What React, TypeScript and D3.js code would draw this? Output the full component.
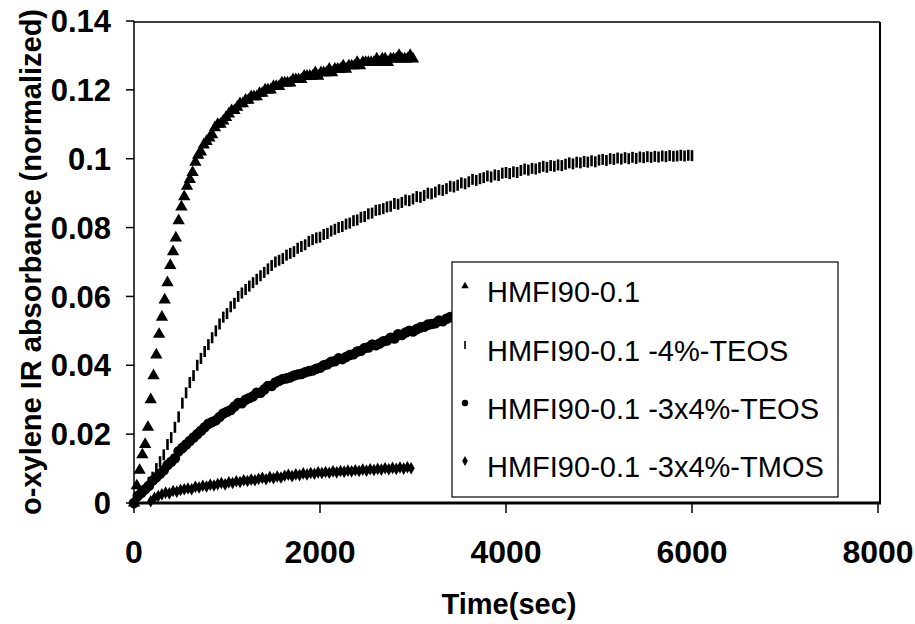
import React from "react";
import * as d3 from "d3";

// ---------- DATA ----------
const seriesNames = [
  "HMFI90-0.1",
  "HMFI90-0.1 -4%-TEOS",
  "HMFI90-0.1 -3x4%-TEOS",
  "HMFI90-0.1 -3x4%-TMOS",
];

const xTicks = [0, 2000, 4000, 6000, 8000];
const yTicks = [0, 0.02, 0.04, 0.06, 0.08, 0.1, 0.12, 0.14];
const yTickLabels = ["0", "0.02", "0.04", "0.06", "0.08", "0.1", "0.12", "0.14"];

// HMFI90-0.1 : sampled every 30 s from 0 s
const triStart = 0;
const triStep = 30;
const triValues = [
  0.0, 0.005, 0.0095, 0.014, 0.017, 0.022, 0.03, 0.037, 0.043, 0.049,
  0.054, 0.059, 0.064, 0.069, 0.073, 0.077, 0.082, 0.086, 0.089, 0.092,
  0.094, 0.096, 0.099, 0.101, 0.102, 0.104, 0.105, 0.106, 0.107, 0.109,
  0.11, 0.11, 0.111, 0.112, 0.113, 0.114, 0.114, 0.115, 0.116, 0.116,
  0.117, 0.117, 0.118, 0.118, 0.118, 0.119, 0.119, 0.12, 0.12, 0.12,
  0.121, 0.121, 0.121, 0.122, 0.122, 0.122, 0.122, 0.123, 0.123, 0.123,
  0.123, 0.124, 0.124, 0.124, 0.124, 0.125, 0.124, 0.125, 0.125, 0.125,
  0.126, 0.125, 0.126, 0.126, 0.126, 0.127, 0.126, 0.127, 0.127, 0.127,
  0.128, 0.127, 0.128, 0.128, 0.128, 0.128, 0.128, 0.129, 0.128, 0.129,
  0.129, 0.128, 0.129, 0.129, 0.129, 0.13, 0.129, 0.129, 0.129, 0.13,
  0.129,
];

// HMFI90-0.1 -4%-TEOS : sampled every 40 s from 0 s
const barStart = 0;
const barStep = 40;
const barValues = [
  0.0, 0.001, 0.003, 0.004, 0.006, 0.0075, 0.01, 0.012, 0.014, 0.017,
  0.019, 0.022, 0.025, 0.029, 0.032, 0.035, 0.037, 0.04, 0.042, 0.044,
  0.046, 0.048, 0.05, 0.052, 0.054, 0.055, 0.057, 0.058, 0.06, 0.061,
  0.062, 0.063, 0.064, 0.065, 0.066, 0.067, 0.068, 0.069, 0.07, 0.0705,
  0.071, 0.072, 0.0725, 0.073, 0.074, 0.0745, 0.075, 0.076, 0.0765, 0.077,
  0.0772, 0.078, 0.0783, 0.079, 0.0795, 0.08, 0.0803, 0.081, 0.0813, 0.082,
  0.0822, 0.083, 0.0832, 0.084, 0.0842, 0.085, 0.0852, 0.0855, 0.086, 0.0862,
  0.087, 0.0868, 0.0873, 0.088, 0.0878, 0.0883, 0.089, 0.0888, 0.0893, 0.09,
  0.0898, 0.0903, 0.091, 0.0908, 0.0913, 0.092, 0.0918, 0.0923, 0.093, 0.0927,
  0.0933, 0.094, 0.0937, 0.0942, 0.0945, 0.095, 0.0947, 0.0953, 0.0951, 0.0958,
  0.096, 0.0957, 0.0962, 0.096, 0.0966, 0.097, 0.0967, 0.0972, 0.097, 0.0974,
  0.0978, 0.0975, 0.098, 0.0978, 0.0982, 0.098, 0.0984, 0.0988, 0.0985, 0.099,
  0.0988, 0.0992, 0.099, 0.0994, 0.0991, 0.0996, 0.0998, 0.0995, 0.1, 0.0998,
  0.1002, 0.0999, 0.1003, 0.1, 0.1004, 0.1001, 0.1005, 0.1003, 0.1006, 0.1004,
  0.1007, 0.1005, 0.1008, 0.1006, 0.1009, 0.1007, 0.1008, 0.101, 0.1008, 0.101,
  0.1009,
];

// HMFI90-0.1 -3x4%-TEOS : sampled every 40 s from 0 s
const cirStart = 0;
const cirStep = 40;
const cirValues = [
  0.0, 0.002, 0.003, 0.004, 0.005, 0.0065, 0.0075, 0.0085, 0.0095, 0.011,
  0.012, 0.013, 0.015, 0.016, 0.017, 0.018, 0.019, 0.02, 0.021, 0.022,
  0.023, 0.0235, 0.024, 0.025, 0.026, 0.0265, 0.027, 0.028, 0.029, 0.029,
  0.03, 0.0305, 0.031, 0.032, 0.032, 0.033, 0.034, 0.034, 0.035, 0.0355,
  0.036, 0.0362, 0.0365, 0.037, 0.0373, 0.0375, 0.038, 0.0383, 0.0385, 0.039,
  0.0393, 0.04, 0.0403, 0.041, 0.0412, 0.042, 0.0418, 0.0424, 0.043, 0.0432,
  0.044, 0.0442, 0.045, 0.0452, 0.046, 0.0458, 0.0463, 0.047, 0.0472, 0.048,
  0.0478, 0.049, 0.0488, 0.0495, 0.05, 0.0498, 0.0505, 0.051, 0.0512, 0.0518,
  0.052, 0.0522, 0.053, 0.0528, 0.0535, 0.054, 0.0538, 0.0545, 0.055, 0.0548,
  0.0555,
];

// HMFI90-0.1 -3x4%-TMOS : sampled every 40 s from 180 s
const diaStart = 180;
const diaStep = 40;
const diaValues = [
  0.0005, 0.0015, 0.002, 0.0025, 0.003, 0.0028, 0.0035, 0.0033, 0.0038, 0.004,
  0.0042, 0.004, 0.0047, 0.0045, 0.005, 0.0048, 0.0053, 0.0051, 0.0055, 0.0058,
  0.0054, 0.006, 0.0058, 0.0063, 0.0061, 0.0066, 0.0064, 0.0068, 0.0066, 0.007,
  0.0073, 0.0069, 0.0075, 0.0072, 0.0077, 0.0074, 0.0079, 0.0082, 0.0078, 0.0083,
  0.0081, 0.0086, 0.0083, 0.0087, 0.0085, 0.0089, 0.0087, 0.009, 0.0088, 0.0092,
  0.0089, 0.0093, 0.0091, 0.0094, 0.0092, 0.0095, 0.0093, 0.0097, 0.0094, 0.0098,
  0.0096, 0.0099, 0.0097, 0.0101, 0.0098, 0.0102, 0.0099, 0.0103, 0.01, 0.0104,
  0.0101,
];

// ---------- LAYOUT ----------
const W = 915;
const H = 624;
const X0 = 134;
const X1 = 878;
const Y0 = 503;
const Y1 = 21;
const FRAME_R = 880;
const FRAME_T = 22;

const x = d3.scaleLinear().domain([0, 8000]).range([X0, X1]);
const y = d3.scaleLinear().domain([0, 0.14]).range([Y0, Y1]);

function toPoints(start: number, step: number, vals: number[]) {
  return vals.map((v, i) => [start + i * step, v] as [number, number]);
}

const triPath = d3.symbol().type(d3.symbolTriangle).size(66)()!;
const cirPath = d3.symbol().type(d3.symbolCircle).size(88)()!;
const diaPath = d3.symbol().type(d3.symbolDiamond).size(46)()!;
const triLeg = d3.symbol().type(d3.symbolTriangle).size(24)()!;
const cirLeg = d3.symbol().type(d3.symbolCircle).size(32)()!;
const diaLeg = d3.symbol().type(d3.symbolDiamond).size(28)()!;

function Marker({ kind, legend }: { kind: number; legend?: boolean }) {
  if (kind === 0) return <path d={legend ? triLeg : triPath} fill="#000" />;
  if (kind === 1)
    return legend ? (
      <rect x={-0.8} y={-4} width={1.6} height={8} fill="#000" />
    ) : (
      <rect x={-1.3} y={-5.5} width={2.6} height={11} fill="#000" />
    );
  if (kind === 2) return <path d={legend ? cirLeg : cirPath} fill="#000" />;
  return <path d={legend ? diaLeg : diaPath} fill="#000" />;
}

export default function App() {
  const series = [
    toPoints(diaStart, diaStep, diaValues),
    toPoints(cirStart, cirStep, cirValues),
    toPoints(barStart, barStep, barValues),
    toPoints(triStart, triStep, triValues),
  ];
  const kinds = [3, 2, 1, 0];
  const font = "Arial, 'Liberation Sans', sans-serif";
  const legRows = [292, 351, 409, 467];

  return (
    <svg
      width={W}
      height={H}
      style={{ position: "absolute", left: 0, top: 0, background: "#fff" }}
      fontFamily={font}
    >
      <rect x={0} y={0} width={W} height={H} fill="#fff" />

      {/* data */}
      {series.map((pts, si) => (
        <g key={si}>
          {pts.map(([t, v], i) => (
            <g key={i} transform={`translate(${x(t)},${y(v)})`}>
              <Marker kind={kinds[si]} />
            </g>
          ))}
        </g>
      ))}

      {/* frame */}
      <line x1={X0} x2={FRAME_R} y1={FRAME_T} y2={FRAME_T} stroke="#000" strokeWidth={1.5} />
      <line x1={FRAME_R} x2={FRAME_R} y1={FRAME_T} y2={Y0} stroke="#000" strokeWidth={2} />
      <line x1={X0} x2={X0} y1={FRAME_T - 1} y2={Y0 + 1} stroke="#000" strokeWidth={1.5} />
      <line x1={X0} x2={FRAME_R + 1} y1={Y0} y2={Y0} stroke="#000" strokeWidth={3} />

      {/* y ticks */}
      {yTicks.map((v, i) => (
        <g key={i}>
          <line x1={X0 - 8} x2={X0} y1={y(v)} y2={y(v)} stroke="#000" strokeWidth={1.5} />
          <text
            x={111}
            y={y(v)}
            dy="0.36em"
            textAnchor="end"
            fontSize={31}
            fontWeight="bold"
          >
            {yTickLabels[i]}
          </text>
        </g>
      ))}

      {/* x ticks */}
      {xTicks.map((t, i) => (
        <g key={i}>
          <line x1={x(t)} x2={x(t)} y1={Y0} y2={Y0 + 10} stroke="#000" strokeWidth={1.5} />
          <text x={x(t)} y={563} textAnchor="middle" fontSize={32} fontWeight="bold">
            {String(t)}
          </text>
        </g>
      ))}

      {/* axis titles */}
      <text x={509} y={614} textAnchor="middle" fontSize={29} fontWeight="bold">
        Time(sec)
      </text>
      <text
        transform={`translate(41,262) rotate(-90)`}
        textAnchor="middle"
        fontSize={29}
        fontWeight="bold"
      >
        o-xylene IR absorbance (normalized)
      </text>

      {/* legend */}
      <rect x={452} y={262} width={386} height={235} fill="#fff" stroke="#000" strokeWidth={1.2} />
      {seriesNames.map((name, i) => (
        <g key={i}>
          <g transform={`translate(465,${legRows[i] - 6})`}>
            <Marker kind={i} legend />
          </g>
          <text x={487} y={legRows[i]} dy="0.35em" fontSize={29}>
            {name}
          </text>
        </g>
      ))}
    </svg>
  );
}
